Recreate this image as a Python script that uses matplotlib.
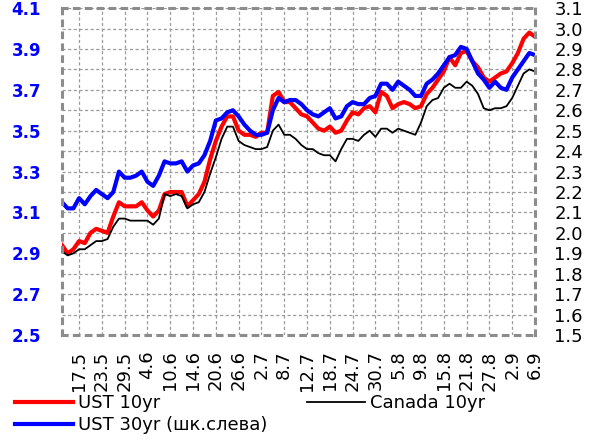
import numpy as np
import matplotlib
matplotlib.use("Agg")
from matplotlib import pyplot as plt

# daily yields; UST 30yr on the left scale, the 10yr pair on the right one
ust30 = [3.15, 3.12, 3.12, 3.17, 3.14, 3.18, 3.21, 3.19, 3.17, 3.20,
         3.30, 3.27, 3.27, 3.28, 3.30, 3.25, 3.23, 3.28, 3.35, 3.34,
         3.34, 3.35, 3.30, 3.33, 3.34, 3.38, 3.45, 3.55, 3.56, 3.59,
         3.60, 3.57, 3.53, 3.50, 3.48, 3.48, 3.49, 3.60, 3.66, 3.64,
         3.65, 3.65, 3.63, 3.60, 3.58, 3.57, 3.59, 3.61, 3.56, 3.57,
         3.62, 3.64, 3.63, 3.63, 3.66, 3.67, 3.73, 3.73, 3.70, 3.74,
         3.72, 3.70, 3.67, 3.67, 3.73, 3.75, 3.78, 3.82, 3.86, 3.87,
         3.91, 3.90, 3.84, 3.78, 3.75, 3.71, 3.74, 3.71, 3.70, 3.76,
         3.80, 3.84, 3.88, 3.87]

ust10 = [1.94, 1.90, 1.92, 1.96, 1.95, 2.00, 2.02, 2.01, 2.00, 2.08,
         2.15, 2.13, 2.13, 2.13, 2.15, 2.11, 2.08, 2.11, 2.19, 2.20,
         2.20, 2.20, 2.13, 2.16, 2.19, 2.25, 2.36, 2.45, 2.52, 2.57,
         2.57, 2.50, 2.48, 2.48, 2.47, 2.49, 2.49, 2.67, 2.69, 2.64,
         2.64, 2.61, 2.58, 2.57, 2.54, 2.51, 2.50, 2.52, 2.49, 2.50,
         2.55, 2.59, 2.58, 2.61, 2.62, 2.59, 2.69, 2.67, 2.61, 2.63,
         2.64, 2.63, 2.61, 2.62, 2.68, 2.71, 2.75, 2.79, 2.86, 2.82,
         2.88, 2.89, 2.84, 2.81, 2.76, 2.74, 2.76, 2.78, 2.79, 2.83,
         2.88, 2.95, 2.98, 2.96]

canada10 = [1.91, 1.89, 1.90, 1.92, 1.92, 1.94, 1.96, 1.96, 1.97, 2.03,
            2.07, 2.07, 2.06, 2.06, 2.06, 2.06, 2.04, 2.07, 2.19, 2.18,
            2.19, 2.18, 2.12, 2.14, 2.15, 2.20, 2.29, 2.37, 2.46, 2.52,
            2.52, 2.45, 2.43, 2.42, 2.41, 2.41, 2.42, 2.50, 2.53, 2.48,
            2.48, 2.46, 2.43, 2.41, 2.41, 2.39, 2.38, 2.38, 2.35, 2.41,
            2.46, 2.46, 2.45, 2.48, 2.50, 2.47, 2.51, 2.51, 2.49, 2.51,
            2.50, 2.49, 2.48, 2.54, 2.62, 2.65, 2.66, 2.71, 2.73, 2.71,
            2.71, 2.74, 2.72, 2.68, 2.61, 2.60, 2.61, 2.61, 2.62, 2.66,
            2.72, 2.78, 2.80, 2.79]

date_labels = ["17.5", "23.5", "29.5", "4.6", "10.6", "14.6", "20.6", "26.6",
               "2.7", "8.7", "12.7", "18.7", "24.7", "30.7", "5.8", "9.8",
               "15.8", "21.8", "27.8", "2.9", "6.9"]

x = np.arange(len(ust30))
right_ticks = np.arange(1.5, 3.11, 0.1)
left_ticks = np.arange(2.5, 4.11, 0.2)

fig = plt.figure(figsize=(5.92, 4.48), dpi=100)
# base axes: right scale, grid and the 10yr lines
ax = fig.add_axes([0.1047, 0.252, 0.7990, 0.730])
# twin on top: left scale and the 30yr line
ax2 = ax.twinx()

l10, = ax.plot(x, ust10, color="#FF0000", lw=3.0, label="UST 10yr", solid_joinstyle="round")
lca, = ax.plot(x, canada10, color="black", lw=1.3, label="Canada 10yr")
l30, = ax2.plot(x, ust30, color="#0000FF", lw=3.0, label="UST 30yr (шк.слева)", solid_joinstyle="round")

ax.set_xlim(0, len(x) - 1)
ax.set_ylim(1.5, 3.1)
ax2.set_ylim(2.5, 4.1)

ax.set_xticks(np.arange(3, len(x), 4))
ax.set_xticklabels(date_labels, rotation=90, fontsize=13)
ax.set_yticks(right_ticks)
ax.set_yticklabels([f"{v:.1f}" for v in right_ticks], fontsize=13)
ax2.set_yticks(left_ticks)
ax2.set_yticklabels([f"{v:.1f}" for v in left_ticks],
                    color="#0000FF", fontweight="bold", fontsize=12)

ax.yaxis.tick_right()
ax2.yaxis.tick_left()
ax.tick_params(axis="x", length=0, pad=11)
ax.tick_params(axis="y", length=0, pad=14)
ax2.tick_params(axis="y", length=0, pad=15)

# dashed grid at every tick of the bottom axis and the right scale
ax.grid(True, color="#9a9a9a", linewidth=0.9, linestyle="--", dashes=(2.5, 2))
ax.set_axisbelow(True)

for s in ax.spines.values():
    s.set_visible(False)
for s in ax2.spines.values():
    s.set_color("#8c8c8c")
    s.set_linewidth(2.2)
    s.set_linestyle((0, (1.5, 2.4)))

fig.legend(handles=[l10, l30, lca], ncol=2, loc="upper left",
           bbox_to_anchor=(0.025, 0.12), frameon=False, fontsize=13,
           handlelength=3.2, handletextpad=0.3, columnspacing=2.2,
           labelspacing=0.2, borderpad=0, borderaxespad=0)

fig.savefig("out.png", dpi=100)
